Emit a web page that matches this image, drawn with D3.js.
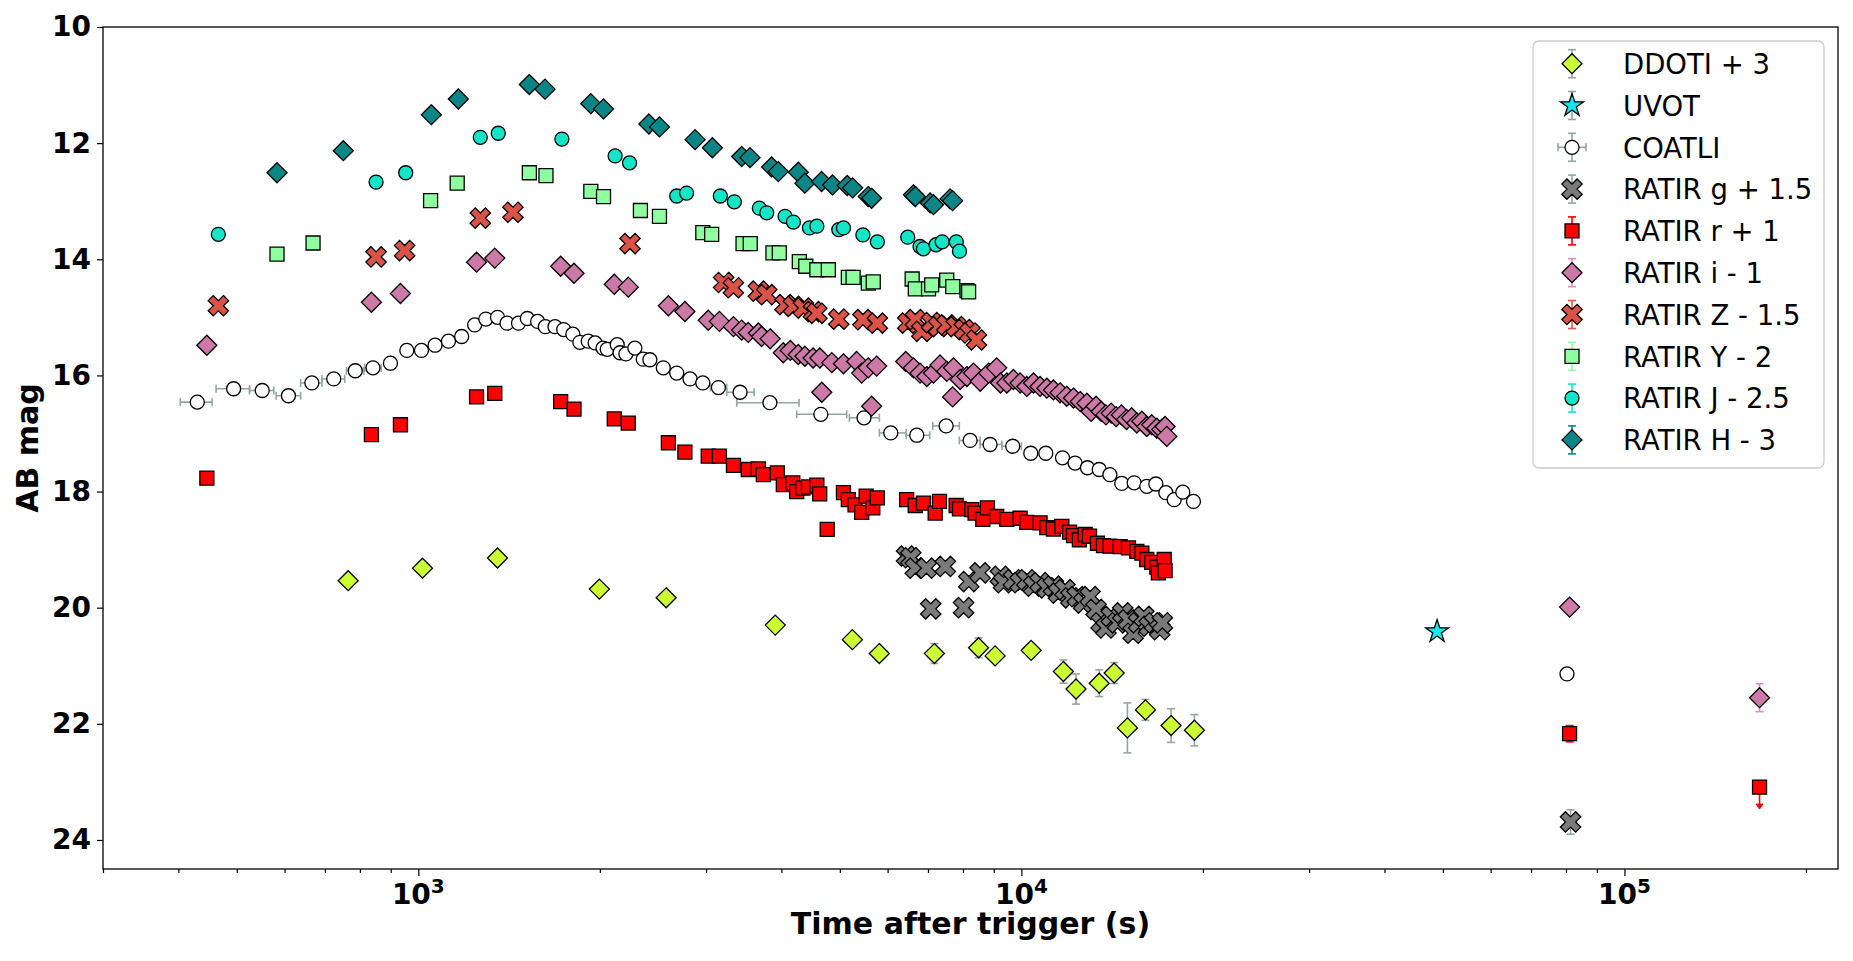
<!DOCTYPE html>
<html><head><meta charset="utf-8">
<script src="https://cdn.jsdelivr.net/npm/d3@7"></script>
<style>
body{margin:0;background:#fff}
svg{display:block}
text{font-family:"DejaVu Sans",sans-serif;fill:#000}
</style></head>
<body><svg id="chart" width="1853" height="961"></svg>
<script>
// ---------------- DATA ----------------
const ddotiTime=[765,1016,1353,1996,2576,3907,5245,5814,7174,8492,9045,10380,11740,12320,13460,14250,14990,16060,17710,19360];
const ddotiMag=[19.535,19.32,19.145,19.68,19.83,20.30,20.55,20.79,20.79,20.69,20.83,20.735,21.10,21.40,21.30,21.125,22.07,21.76,22.03,22.11];
const ddotiErr=[0.05,0.05,0.05,0.06,0.06,0.07,0.08,0.10,0.17,0.17,0.10,0.12,0.20,0.26,0.23,0.18,0.43,0.18,0.29,0.27];

const uvotTime=[48900];
const uvotMag=[20.41];
const uvotErr=[0.05];

const coatliTime=[430,494,551,609,666,724,786,841,899,957,1012,1066,1122,1180,1240,1294,1353,1403,1466,1516,1577,1624,1685,1742,1804,1853,1913,1964,2024,2057,2137,2160,2209,2286,2360,2421,2548,2682,2822,2963,3145,3416,3828,4650,5483,6073,6707,7502,8222,8873,9675,10365,10977,11700,12275,12870,13460,14020,14670,15380,16140,16710,17360,17920,18520,19290,80300];
const coatliMag=[16.46,16.23,16.26,16.35,16.13,16.06,15.92,15.87,15.79,15.57,15.57,15.48,15.41,15.33,15.13,15.03,15.00,15.10,15.10,15.02,15.07,15.16,15.16,15.21,15.29,15.43,15.41,15.44,15.53,15.55,15.47,15.61,15.63,15.53,15.72,15.73,15.87,15.96,16.06,16.13,16.21,16.29,16.47,16.67,16.73,16.99,17.03,16.87,17.12,17.19,17.22,17.34,17.34,17.42,17.51,17.59,17.62,17.71,17.86,17.85,17.91,17.87,18.02,18.14,18.01,18.17,21.14];
// horizontal (time) error bars: [time, low, high]
const coatliTimeRange=[[430,403,455],[494,462,525],[551,525,576],[609,581,638],[666,638,692],[724,692,755],[786,760,812],[841,815,868],[3145,3050,3246],[3416,3246,3604],[3828,3373,4278],[4650,4241,5133],[5483,5186,5814],[6073,5814,6442],[6707,6442,7047],[7502,7130,7890],[8222,7890,8542],[8873,8542,9280],[9675,9280,10000]];

const gTime=[6450,6555,6670,6960,7075,7480,8020,8180,8540,9230,9340,9700,9950,10210,10475,10740,11020,11300,11520,11810,12080,12370,12680,13000,13300,13560,13810,14090,14440,14720,15030,15320,15640,15960,16290,16620,16960,17130,81400];
const gMag=[19.11,19.14,19.32,19.32,20.02,19.29,20.00,19.55,19.40,19.46,19.57,19.52,19.57,19.52,19.63,19.57,19.66,19.63,19.75,19.69,19.83,19.81,19.92,19.81,20.03,20.26,20.35,20.15,20.26,20.09,20.21,20.44,20.26,20.15,20.32,20.26,20.38,20.26,23.69];

const rTime=[446,836,934,1249,1339,1722,1812,2113,2229,2598,2767,3025,3157,3331,3524,3663,3733,3939,4029,4178,4241,4340,4436,4580,4630,4764,5069,5165,5298,5435,5528,5670,5769,6452,6668,6880,7195,7315,7795,7895,8274,8380,8630,8785,9100,9460,9950,10210,10740,11020,11300,11670,12020,12200,12480,12755,12970,13370,13680,14030,14580,15050,15540,15840,16140,16450,16770,16870,17250,17310,81100,167500];
const rMag=[17.77,17.02,16.85,16.37,16.31,16.45,16.58,16.75,16.82,17.16,17.32,17.39,17.39,17.55,17.62,17.61,17.71,17.68,17.88,17.85,18.00,17.94,17.92,17.89,18.04,18.65,18.02,18.14,18.23,18.36,18.08,18.28,18.11,18.14,18.24,18.20,18.37,18.17,18.24,18.30,18.31,18.37,18.48,18.28,18.43,18.48,18.46,18.53,18.54,18.62,18.645,18.60,18.70,18.76,18.83,18.74,18.77,18.89,18.93,18.94,18.95,18.97,19.03,19.06,19.17,19.22,19.30,19.40,19.17,19.36,22.17,23.09];

const iTime=[446,836,934,1249,1339,1722,1812,2113,2229,2598,2767,3025,3157,3331,3437,3524,3663,3708,3832,4029,4138,4266,4375,4514,4633,4667,4849,5069,5330,5435,5573,5645,5755,6430,6622,6792,6968,7148,7330,7520,7690,7717,7915,8120,8331,8546,8827,9100,9233,9460,9700,9950,10210,10475,10740,11020,11300,11590,11890,12200,12520,12840,13050,13300,13560,13810,14090,14360,14650,14940,15230,15540,15840,16140,16450,16770,17090,17310,17420,81100,167500];
const iMag=[15.48,14.74,14.59,14.05,13.98,14.12,14.24,14.43,14.48,14.80,14.90,15.05,15.07,15.16,15.22,15.26,15.27,15.33,15.37,15.61,15.57,15.64,15.67,15.70,15.70,16.29,15.78,15.80,15.76,15.96,15.87,16.53,15.84,15.76,15.87,15.96,16.02,15.96,15.82,15.93,16.37,15.87,16.07,16.02,15.96,16.10,15.96,15.87,16.13,16.13,16.07,16.13,16.19,16.13,16.19,16.22,16.25,16.30,16.36,16.39,16.45,16.48,16.62,16.53,16.62,16.68,16.65,16.71,16.68,16.76,16.73,16.82,16.79,16.88,16.85,16.91,16.93,16.88,17.05,19.99,21.55];

const zTime=[466,851,949,1267,1435,2244,3208,3330,3663,3782,4056,4188,4350,4520,4580,4980,5460,5770,6480,6670,6840,7100,7290,7520,7800,8040,8220,8425];
const zMag=[14.80,13.96,13.85,13.29,13.19,13.73,14.40,14.49,14.55,14.61,14.78,14.81,14.84,14.90,14.93,15.03,15.04,15.10,15.10,15.04,15.24,15.09,15.16,15.13,15.16,15.21,15.27,15.39];

const yTime=[583,669,1048,1160,1528,1628,1932,2028,2335,2511,2963,3065,3455,3551,3873,3968,4283,4390,4580,4785,5165,5260,5575,5680,6590,6670,7015,7100,7520,7695,8125,8175];
const yMag=[13.91,13.72,12.99,12.69,12.51,12.56,12.83,12.92,13.16,13.26,13.54,13.57,13.73,13.73,13.89,13.89,14.04,14.12,14.18,14.18,14.31,14.31,14.41,14.39,14.34,14.51,14.51,14.44,14.36,14.47,14.54,14.56];

const jTime=[466,851,953,1267,1357,1730,2120,2240,2682,2785,3168,3342,3677,3782,4056,4188,4452,4580,4980,5070,5460,5770,6480,6790,6880,7220,7390,7800,7895];
const jMag=[13.57,12.67,12.51,11.90,11.83,11.93,12.22,12.34,12.91,12.86,12.91,13.01,13.12,13.20,13.26,13.36,13.46,13.43,13.49,13.46,13.58,13.70,13.62,13.78,13.82,13.75,13.70,13.70,13.86];

const hTime=[583,751,1051,1165,1528,1622,1932,2028,2412,2511,2877,3073,3437,3548,3853,3953,4266,4375,4663,4861,5143,5250,5573,5645,6622,6670,7058,7150,7617,7690];
const hMag=[12.51,12.13,11.51,11.24,10.99,11.07,11.32,11.41,11.67,11.72,11.94,12.08,12.23,12.25,12.41,12.49,12.50,12.69,12.66,12.72,12.73,12.77,12.92,12.95,12.89,12.92,13.03,13.06,12.96,12.99];

// visible magnitude errors of individual late points: [time, err]
const gLateErr=[[81400,0.21]];
const rLateErr=[[81100,0.14]];
const iLateErr=[[167500,0.24]];
const rUpperLimitTime=[167500];

const legendLabels=["DDOTI + 3","UVOT","COATLI","RATIR g + 1.5","RATIR r + 1","RATIR i - 1","RATIR Z - 1.5","RATIR Y - 2","RATIR J - 2.5","RATIR H - 3"];
const yTicks=[10,12,14,16,18,20,22,24];
const xMajorTicks=[1e3,1e4,1e5];
const xTickExponents=["3","4","5"];

// ---------------- STYLE / SERIES ----------------
const errGray="#95a5a6";
function zipErr(times, mags, pairs){
  const m=new Map(pairs); return times.map((t,i)=>({t, m:mags[i], e:m.get(t)||0}));
}
const series=[
  {label:legendLabels[0], pts:ddotiTime.map((t,i)=>({t,m:ddotiMag[i],e:ddotiErr[i]})), shape:"diamond", fill:"#ccff33", ec:errGray},
  {label:legendLabels[1], pts:uvotTime.map((t,i)=>({t,m:uvotMag[i],e:uvotErr[i]})), shape:"star", fill:"#14e8f0", ec:errGray},
  {label:legendLabels[2], pts:coatliTime.map((t,i)=>({t,m:coatliMag[i],e:0})), shape:"circle", fill:"#ffffff", ec:errGray, xerr:true},
  {label:legendLabels[3], pts:zipErr(gTime,gMag,gLateErr), shape:"x", fill:"#7a7a7a", ec:errGray},
  {label:legendLabels[4], pts:zipErr(rTime,rMag,rLateErr), shape:"square", fill:"#ff0000", ec:"#ff0000"},
  {label:legendLabels[5], pts:zipErr(iTime,iMag,iLateErr), shape:"diamond", fill:"#cc79a7", ec:"#e08cbc"},
  {label:legendLabels[6], pts:zTime.map((t,i)=>({t,m:zMag[i],e:0})), shape:"x", fill:"#db5247", ec:"#e8574d"},
  {label:legendLabels[7], pts:yTime.map((t,i)=>({t,m:yMag[i],e:0})), shape:"square", fill:"#8fffa0", ec:"#8fffa0"},
  {label:legendLabels[8], pts:jTime.map((t,i)=>({t,m:jMag[i],e:0})), shape:"circle", fill:"#12e6c8", ec:"#12e6c8"},
  {label:legendLabels[9], pts:hTime.map((t,i)=>({t,m:hMag[i],e:0})), shape:"diamond", fill:"#0b8686", ec:"#0b8686"}
];

// ---------------- SCALES ----------------
const L=103,R=1838,T=27,B=869;
const x=d3.scaleLog().domain([300,226000]).range([L,R]);
const y=d3.scaleLinear().domain([10,24.5]).range([T,B]);
const svg=d3.select("#chart");

// marker paths
const poly=pts=>d3.line()(pts)+"Z";
function markerPath(shape){
  if(shape==="diamond"){const r=10;return poly([[0,-r],[r,0],[0,r],[-r,0]]);}
  if(shape==="square"){const h=7;return poly([[-h,-h],[h,-h],[h,h],[-h,h]]);}
  if(shape==="circle"){const p=d3.path();p.moveTo(7,0);p.arc(0,0,7,0,2*Math.PI);p.closePath();return p.toString();}
  if(shape==="x"){const s=3.6;const base=[[-1,-3],[1,-3],[1,-1],[3,-1],[3,1],[1,1],[1,3],[-1,3],[-1,1],[-3,1],[-3,-1],[-1,-1]];
    const c=Math.SQRT1_2;return poly(base.map(([a,b])=>[(a*c-b*c)*s,(a*c+b*c)*s]));}
  if(shape==="star"){const Ro=12,Ri=12*0.381966;const pts=[];for(let k=0;k<10;k++){const r=k%2?Ri:Ro;const a=-Math.PI/2+k*Math.PI/5;pts.push([r*Math.cos(a),r*Math.sin(a)]);}return poly(pts);}
}

// ---------------- AXES ----------------
const minor=[];
[100,1000,10000,100000].forEach(d=>{for(let k=2;k<=9;k++){const v=k*d;if(v>=300&&v<=226000&&!xMajorTicks.includes(v))minor.push(v);}});
const gxMinor=svg.append("g").attr("transform",`translate(0,${B})`)
  .call(d3.axisBottom(x).tickValues(minor).tickSize(4).tickSizeOuter(0).tickFormat(""));
const gxMajor=svg.append("g").attr("transform",`translate(0,${B})`)
  .call(d3.axisBottom(x).tickValues(xMajorTicks).tickSize(7).tickSizeOuter(0).tickFormat(""));
const gy=svg.append("g").attr("transform",`translate(${L},0)`)
  .call(d3.axisLeft(y).tickValues(yTicks).tickSize(6).tickPadding(6).tickSizeOuter(0).tickFormat(d3.format("d")));
[gxMinor,gxMajor,gy].forEach(g=>{g.select(".domain").remove();g.selectAll(".tick line").attr("stroke","#000").attr("stroke-width",1.2);});
gy.selectAll(".tick text").attr("font-size",28).attr("font-weight","bold").attr("font-family","DejaVu Sans").attr("fill","#000");

const xl=svg.append("g").selectAll("text").data(xMajorTicks).join("text")
  .attr("x",d=>x(d)).attr("y",904).attr("text-anchor","middle")
  .attr("font-size",28).attr("font-weight","bold");
xl.append("tspan").text("10");
xl.append("tspan").attr("dy",-11).attr("font-size",20).text((d,i)=>xTickExponents[i]);

svg.append("text").attr("x",(L+R)/2).attr("y",934).attr("text-anchor","middle")
  .attr("font-size",30).attr("font-weight","bold").text("Time after trigger (s)");
svg.append("text").attr("transform",`translate(38,${(T+B)/2}) rotate(-90)`).attr("text-anchor","middle")
  .attr("font-size",30).attr("font-weight","bold").text("AB mag");

// ---------------- DATA MARKS ----------------
const plot=svg.append("g");
series.forEach(s=>{
  const g=plot.append("g");
  // vertical error bars
  s.pts.filter(p=>p.e>0).forEach(p=>{
    const y1=y(p.m-p.e),y2=y(p.m+p.e),cx=x(p.t);
    g.append("line").attr("x1",cx).attr("x2",cx).attr("y1",y1).attr("y2",y2).attr("stroke",s.ec).attr("stroke-width",1.6);
    [y1,y2].forEach(yy=>g.append("line").attr("x1",cx-4).attr("x2",cx+4).attr("y1",yy).attr("y2",yy).attr("stroke",s.ec).attr("stroke-width",1.6));
  });
  // horizontal error bars (COATLI)
  if(s.xerr){
    coatliTimeRange.forEach(([t,lo,hi])=>{
      const idx=coatliTime.indexOf(t); const cy=y(coatliMag[idx]);
      g.append("line").attr("x1",x(lo)).attr("x2",x(hi)).attr("y1",cy).attr("y2",cy).attr("stroke",s.ec).attr("stroke-width",1.6);
      [lo,hi].forEach(v=>g.append("line").attr("x1",x(v)).attr("x2",x(v)).attr("y1",cy-4).attr("y2",cy+4).attr("stroke",s.ec).attr("stroke-width",1.6));
    });
  }
  // upper limit arrow for r
  if(s.label===legendLabels[4]){
    rUpperLimitTime.forEach(t=>{
      const idx=rTime.indexOf(t);const cx=x(t),cy=y(rMag[idx]);
      g.append("line").attr("x1",cx).attr("x2",cx).attr("y1",cy).attr("y2",cy+20).attr("stroke","#ff0000").attr("stroke-width",1.6);
      g.append("path").attr("d",poly([[cx-3.5,cy+17],[cx+3.5,cy+17],[cx,cy+22]])).attr("fill","#ff0000").attr("stroke","#ff0000").attr("stroke-width",1);
    });
  }
  g.selectAll("path.mk").data(s.pts).join("path").attr("class","mk")
    .attr("d",markerPath(s.shape))
    .attr("transform",p=>`translate(${x(p.t)},${y(p.m)})`)
    .attr("fill",s.fill).attr("stroke","#000").attr("stroke-width",1.3);
});

// frame
svg.append("rect").attr("x",L).attr("y",T).attr("width",R-L).attr("height",B-T)
  .attr("fill","none").attr("stroke","#000").attr("stroke-width",1.3);

// ---------------- LEGEND ----------------
const lg=svg.append("g");
lg.append("rect").attr("x",1533).attr("y",41).attr("width",291).attr("height",427).attr("rx",6)
  .attr("fill","#fff").attr("fill-opacity",0.8).attr("stroke","#cccccc").attr("stroke-width",1.3);
series.forEach((s,i)=>{
  const cy=63.7+i*41.8, cx=1572;
  const g=lg.append("g");
  g.append("line").attr("x1",cx).attr("x2",cx).attr("y1",cy-14).attr("y2",cy+14).attr("stroke",s.ec).attr("stroke-width",1.6);
  [cy-14,cy+14].forEach(yy=>g.append("line").attr("x1",cx-4).attr("x2",cx+4).attr("y1",yy).attr("y2",yy).attr("stroke",s.ec).attr("stroke-width",1.6));
  if(s.xerr){
    g.append("line").attr("x1",cx-14).attr("x2",cx+14).attr("y1",cy).attr("y2",cy).attr("stroke",s.ec).attr("stroke-width",1.6);
    [cx-14,cx+14].forEach(xx=>g.append("line").attr("x1",xx).attr("x2",xx).attr("y1",cy-4).attr("y2",cy+4).attr("stroke",s.ec).attr("stroke-width",1.6));
  }
  g.append("path").attr("d",markerPath(s.shape)).attr("transform",`translate(${cx},${cy})`)
    .attr("fill",s.fill).attr("stroke","#000").attr("stroke-width",1.3);
  g.append("text").attr("x",1623).attr("y",cy+10.2).attr("font-size",27.5).text(s.label);
});
</script>
</body></html>
